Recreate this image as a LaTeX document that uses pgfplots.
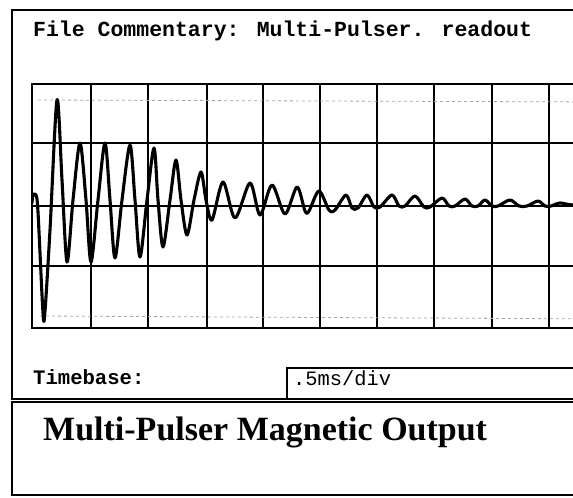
\documentclass[border=0pt]{standalone}
\usepackage{pgfplots}
\pgfplotsset{compat=1.18}
\usepackage{fontspec}
\setmainfont{Liberation Serif}
\newfontfamily\mono{Liberation Mono}
\begin{document}
\begin{tikzpicture}
\useasboundingbox (0pt,0pt) rectangle (573pt,-498pt);
\begin{scope}
\clip (0pt,0pt) rectangle (573pt,-498pt);
\fill[white] (0pt,0pt) rectangle (573pt,-498pt);
\begin{scope}[x=1pt,y=-1pt]
% upper panel frame
\draw[line width=2pt] (590,10) -- (12,10) -- (12,399) -- (590,399);
% timebase value box
\draw[line width=1.6pt] (287,399) -- (287,368) -- (590,368);
% lower box
\draw[line width=1.6pt] (590,402) -- (12,402) -- (12,495) -- (590,495);
\node[anchor=base west, inner sep=0pt, font=\mono\bfseries\fontsize{21.5}{24}\selectfont] at (33,36) {File Commentary: Multi-Pulser. readout};
\node[anchor=base west, inner sep=0pt, font=\mono\bfseries\fontsize{20.6}{24}\selectfont] at (33,384) {Timebase:};
\node[anchor=base west, inner sep=0pt, font=\mono\fontsize{20.4}{24}\selectfont] at (293,385) {.5ms/div};
\node[anchor=base west, inner sep=0pt, font=\bfseries\fontsize{34}{40}\selectfont] at (43,440) {Multi-Pulser Magnetic Output};
\end{scope}
\begin{axis}[
  at={(32pt,-84pt)}, anchor=north west,
  scale only axis, width=577pt, height=244pt,
  xmin=32, xmax=609, ymin=84, ymax=328, y dir=reverse,
  xtick={32,91,148,207,263,320,377,434,492,549,607},
  ytick={84,143,206,266,328},
  xticklabels={}, yticklabels={},
  major tick length=0pt,
  grid=major,
  major grid style={black, line width=1.6pt},
  axis line style={black, line width=2pt},
]
\addplot[gray!70, line width=0.8pt, dash pattern=on 3pt off 3pt] coordinates {(38,100) (609,102)};
\addplot[gray!70, line width=0.8pt, dash pattern=on 3pt off 3pt] coordinates {(40,316) (609,319)};
\addplot[black, line width=3.1pt, smooth, tension=0.5, line join=round] coordinates {
(32,203) (33,195) (36,195) (38,212) (43,313) (45,311) (50,230) (57,100)
(62,180) (67,262) (73,200) (80,143) (86,200) (91,262) (98,200) (105,143)
(110,200) (115,258) (122,200) (130,145) (135,200) (140,257) (147,200)
(154,148) (158,200) (163,247) (170,200) (176,160) (181,200) (187,235)
(194,200) (201,172) (206,200) (212,220) (223,182) (235,218) (250,183)
(260,215) (272,185) (285,214) (297,187) (305,211) (309,211) (319,191)
(329,210) (335,210) (346,195) (352,208) (358,208) (367,195) (374,207)
(380,207) (392,195) (399,206) (405,206) (415,196) (424,207) (430,207)
(442,198) (449,206) (455,206) (465,199) (472,206) (478,206) (485,200)
(492,206) (498,206) (510,200) (519,206) (527,206) (538,201) (545,206)
(551,206) (560,203) (573,205) (609,206)
};
\end{axis}
\end{scope}
\end{tikzpicture}
\end{document}
